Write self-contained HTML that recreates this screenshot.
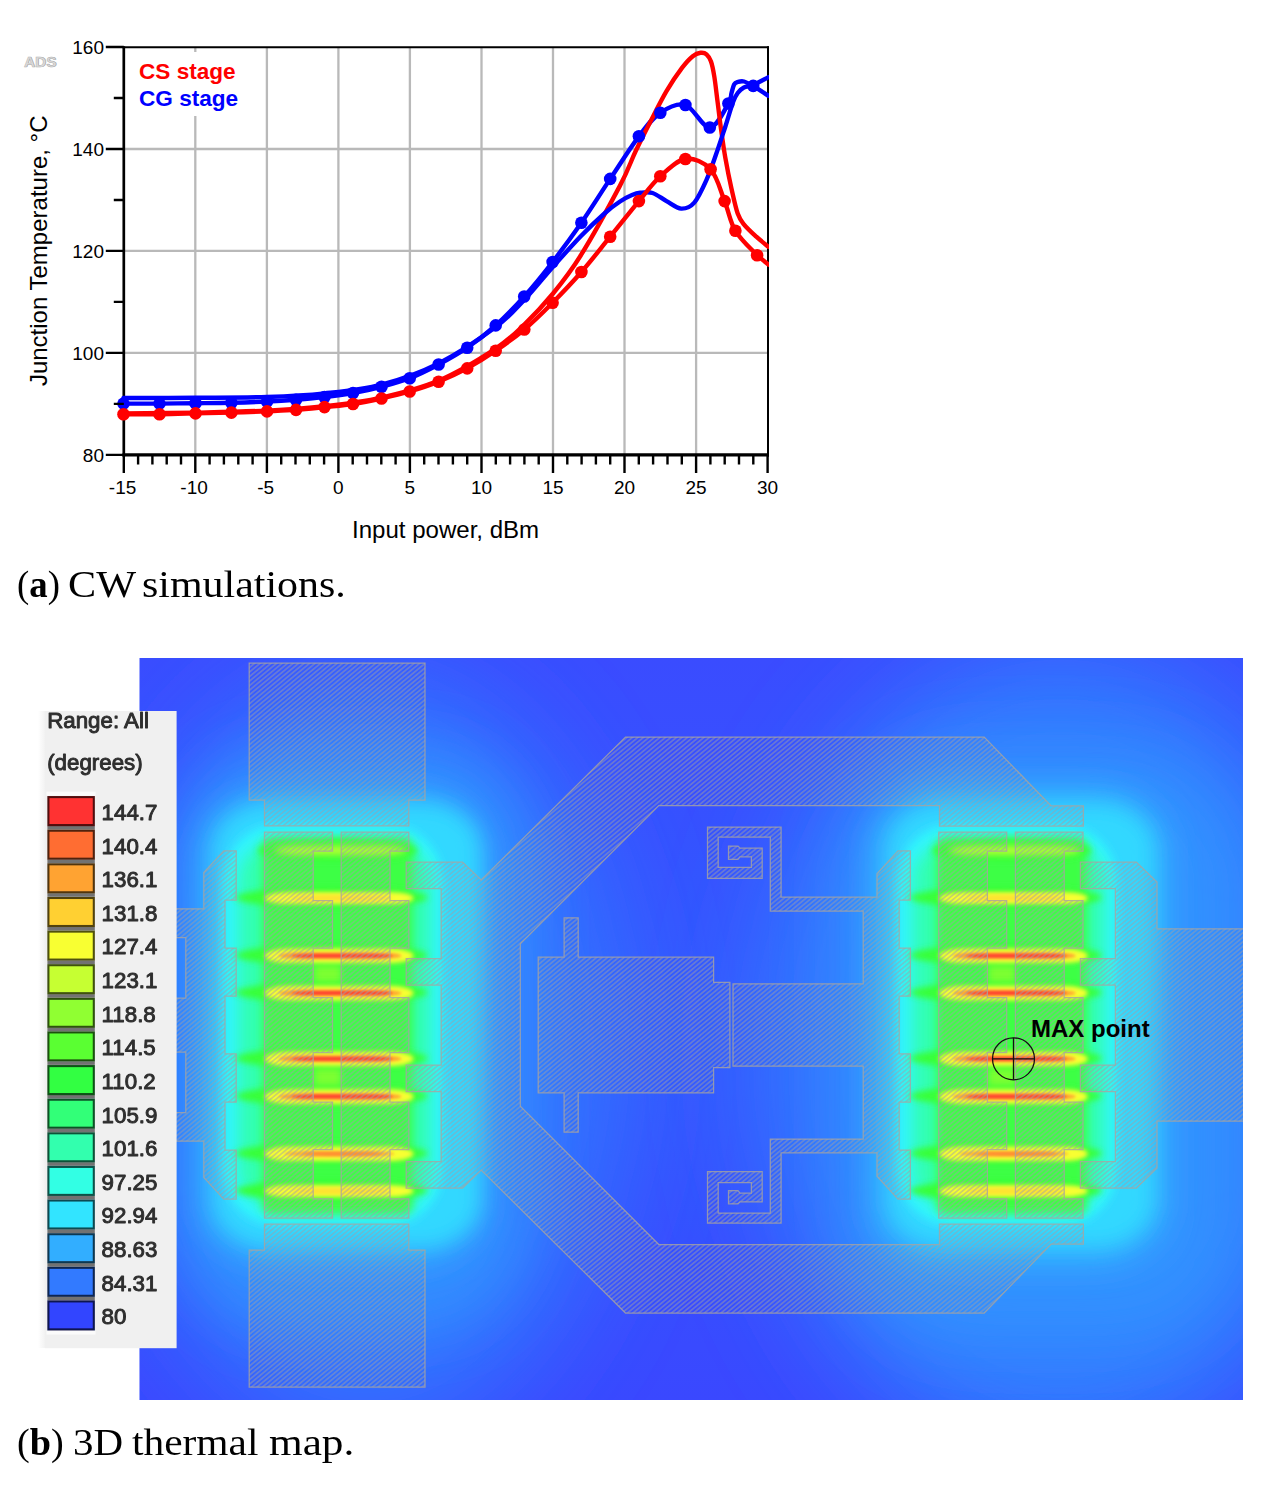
<!DOCTYPE html>
<html><head><meta charset="utf-8"><title>Figure</title>
<style>
html,body{margin:0;padding:0;background:#fff;}
body{width:1279px;height:1485px;overflow:hidden;position:relative;}
svg{position:absolute;left:0;top:0;}
.cap{position:absolute;left:0;margin:0;width:400px;height:42px;font-family:"Liberation Serif","DejaVu Serif",serif;font-size:37.5px;line-height:1;color:#000;white-space:nowrap;}
.cap span{position:absolute;top:0;display:inline-block;transform-origin:0 0;}
</style></head><body>
<svg width="1279" height="1485" viewBox="0 0 1279 1485">
<!--CHART-->
<line x1="195.3" y1="47.0" x2="195.3" y2="454.9" stroke="#b9b9b9" stroke-width="2.3"/>
<line x1="266.9" y1="47.0" x2="266.9" y2="454.9" stroke="#b9b9b9" stroke-width="2.3"/>
<line x1="338.4" y1="47.0" x2="338.4" y2="454.9" stroke="#b9b9b9" stroke-width="2.3"/>
<line x1="409.9" y1="47.0" x2="409.9" y2="454.9" stroke="#b9b9b9" stroke-width="2.3"/>
<line x1="481.5" y1="47.0" x2="481.5" y2="454.9" stroke="#b9b9b9" stroke-width="2.3"/>
<line x1="553.0" y1="47.0" x2="553.0" y2="454.9" stroke="#b9b9b9" stroke-width="2.3"/>
<line x1="624.5" y1="47.0" x2="624.5" y2="454.9" stroke="#b9b9b9" stroke-width="2.3"/>
<line x1="696.1" y1="47.0" x2="696.1" y2="454.9" stroke="#b9b9b9" stroke-width="2.3"/>
<line x1="123.8" y1="352.9" x2="767.6" y2="352.9" stroke="#b9b9b9" stroke-width="2.3"/>
<line x1="123.8" y1="250.9" x2="767.6" y2="250.9" stroke="#b9b9b9" stroke-width="2.3"/>
<line x1="123.8" y1="149.0" x2="767.6" y2="149.0" stroke="#b9b9b9" stroke-width="2.3"/>
<rect x="131" y="52" width="122" height="64" fill="#fff"/>
<path d="M122.5,47.15 H769.0" stroke="#000" stroke-width="2" fill="none"/>
<path d="M768.0,46.2 V456.4" stroke="#000" stroke-width="2" fill="none"/>
<path d="M123.8,46.2 V456.4" stroke="#000" stroke-width="2.7" fill="none"/>
<path d="M122.5,454.9 H769.0" stroke="#000" stroke-width="3.1" fill="none"/>
<clipPath id="pc"><rect x="115.8" y="47.0" width="653.2" height="407.9"/></clipPath>
<g clip-path="url(#pc)" fill="none" stroke-width="4.4" stroke-linejoin="round" stroke-linecap="round">
<path d="M123.5,403.6 C129.5,403.6 147.5,403.7 159.5,403.6 C171.5,403.5 183.5,403.3 195.5,403.2 C207.5,403.1 219.5,403.1 231.4,402.8 C243.3,402.5 256.2,402.1 267.0,401.6 C277.8,401.1 286.4,400.5 296.0,399.7 C305.6,398.9 315.0,398.1 324.5,397.0 C334.0,395.9 343.5,394.7 353.0,393.0 C362.5,391.3 372.1,389.3 381.5,386.8 C390.9,384.3 400.2,381.9 409.7,378.2 C419.2,374.5 429.0,369.6 438.6,364.5 C448.2,359.4 457.7,354.2 467.2,347.7 C476.7,341.2 486.2,333.9 495.7,325.4 C505.2,316.9 514.7,307.1 524.2,296.5 C533.7,285.9 543.1,274.3 552.6,262.0 C562.1,249.7 571.8,236.5 581.4,222.7 C591.0,208.8 600.6,193.3 610.2,178.9 C619.8,164.5 630.5,147.3 638.9,136.3 C647.2,125.3 652.5,118.0 660.3,112.8 C668.0,107.6 677.1,102.5 685.4,105.0 C693.6,107.5 702.6,127.8 709.8,127.5 C717.0,127.2 724.8,109.3 728.4,103.5 C732.0,97.7 730.6,95.8 731.6,92.6 C732.6,89.4 733.2,86.2 734.2,84.4 C735.2,82.6 736.2,82.5 737.8,82.0 C739.4,81.5 741.4,80.8 744.0,81.5 C746.6,82.2 751.7,85.2 753.2,85.9 L768.4,95.8" stroke="#0000ff"/>
<path d="M123.5,413.5 C135.4,413.4 171.1,413.1 195.0,412.6 C218.9,412.1 245.4,411.7 267.0,410.6 C288.6,409.6 305.4,408.5 324.5,406.3 C343.6,404.1 362.5,401.9 381.5,397.6 C400.5,393.3 419.6,388.8 438.6,380.6 C457.6,372.4 481.4,357.9 495.7,348.5 C510.0,339.1 514.8,333.6 524.3,324.5 C533.8,315.4 543.1,305.6 552.6,294.0 C562.1,282.4 569.8,273.1 581.0,255.0 C592.2,236.9 610.9,202.8 620.0,185.6 C629.1,168.3 630.3,162.3 635.5,151.5 C640.7,140.7 645.8,130.6 651.0,120.5 C656.2,110.4 661.3,99.9 666.5,91.1 C671.7,82.3 677.6,73.7 682.0,67.9 C686.4,62.1 689.7,58.7 692.8,56.2 C695.9,53.7 698.2,53.1 700.5,52.8 C702.8,52.5 704.8,52.8 706.5,54.3 C708.2,55.8 709.7,57.8 711.0,61.5 C712.3,65.2 713.2,69.8 714.3,76.5 C715.4,83.2 716.5,93.6 717.6,102.0 C718.7,110.4 719.4,117.4 720.7,126.7 C722.0,136.0 723.5,147.4 725.3,157.7 C727.1,168.0 729.4,179.4 731.5,188.7 C733.6,198.0 735.6,207.6 737.7,213.5 C739.8,219.4 740.8,220.4 743.9,224.3 C747.0,228.2 752.2,232.9 756.3,236.7 C760.4,240.4 766.4,245.1 768.4,246.8" stroke="#ff0000"/>
<path d="M123.5,398.0 C135.4,398.0 171.1,398.0 195.0,397.8 C218.9,397.6 245.4,397.7 267.0,397.0 C288.6,396.3 305.4,395.5 324.5,393.4 C343.6,391.3 362.5,389.6 381.5,384.6 C400.5,379.6 419.6,373.0 438.6,363.4 C457.6,353.8 481.4,337.6 495.7,327.0 C510.0,316.4 514.6,310.1 524.2,300.0 C533.8,289.9 543.7,277.2 553.2,266.5 C562.7,255.8 572.4,244.9 581.0,236.0 C589.6,227.1 598.5,218.8 605.0,213.0 C611.5,207.2 615.5,204.5 620.0,201.5 C624.5,198.5 628.6,196.4 632.0,195.0 C635.4,193.6 636.7,193.1 640.1,192.8 C643.5,192.5 648.1,191.6 652.5,193.0 C656.9,194.4 661.7,198.5 666.5,201.1 C671.3,203.7 676.6,208.3 681.2,208.6 C685.8,208.8 690.0,207.5 694.3,202.6 C698.5,197.7 703.1,187.4 706.7,179.4 C710.3,171.4 712.9,163.4 716.0,154.6 C719.1,145.8 722.4,135.5 725.3,126.7 C728.1,117.9 731.0,107.6 733.1,102.0 C735.2,96.4 735.9,95.4 737.7,93.0 C739.5,90.6 741.3,88.8 743.9,87.5 C746.5,86.2 749.1,86.6 753.2,84.9 C757.3,83.2 765.9,78.5 768.4,77.2" stroke="#0000ff"/>
<path d="M123.5,414.2 C129.5,414.2 147.5,414.3 159.5,414.2 C171.5,414.1 183.5,413.7 195.5,413.4 C207.5,413.1 219.5,412.9 231.4,412.6 C243.3,412.3 256.2,411.8 267.0,411.4 C277.8,410.9 286.4,410.6 296.0,409.9 C305.6,409.2 315.0,408.1 324.5,407.1 C334.0,406.1 343.5,405.4 353.0,404.0 C362.5,402.6 372.1,400.6 381.5,398.5 C390.9,396.4 400.2,394.3 409.7,391.5 C419.2,388.7 429.0,385.6 438.6,381.7 C448.2,377.8 457.7,373.5 467.2,368.4 C476.7,363.2 486.2,357.3 495.7,350.8 C505.2,344.3 514.8,337.5 524.3,329.5 C533.8,321.5 543.1,312.3 552.6,302.7 C562.1,293.1 571.8,283.0 581.4,272.0 C591.0,261.0 600.6,248.5 610.2,236.7 C619.8,224.9 630.5,211.2 638.9,201.1 C647.2,191.0 652.5,183.3 660.3,176.3 C668.0,169.3 677.0,160.2 685.4,159.0 C693.8,157.8 704.1,162.3 710.6,169.3 C717.1,176.3 720.5,190.8 724.6,201.1 C728.7,211.3 730.0,221.8 735.4,230.8 C740.8,239.8 753.5,251.2 757.1,255.3 L768.4,264.6" stroke="#ff0000"/>
</g>
<g clip-path="url(#pc)">
<circle cx="123.5" cy="403.6" r="6.3" fill="#0000ff"/>
<circle cx="159.5" cy="403.6" r="6.3" fill="#0000ff"/>
<circle cx="195.5" cy="403.2" r="6.3" fill="#0000ff"/>
<circle cx="231.4" cy="402.8" r="6.3" fill="#0000ff"/>
<circle cx="267.0" cy="401.6" r="6.3" fill="#0000ff"/>
<circle cx="296.0" cy="399.7" r="6.3" fill="#0000ff"/>
<circle cx="324.5" cy="397.0" r="6.3" fill="#0000ff"/>
<circle cx="353.0" cy="393.0" r="6.3" fill="#0000ff"/>
<circle cx="381.5" cy="386.8" r="6.3" fill="#0000ff"/>
<circle cx="409.7" cy="378.2" r="6.3" fill="#0000ff"/>
<circle cx="438.6" cy="364.5" r="6.3" fill="#0000ff"/>
<circle cx="467.2" cy="347.7" r="6.3" fill="#0000ff"/>
<circle cx="495.7" cy="325.4" r="6.3" fill="#0000ff"/>
<circle cx="524.2" cy="296.5" r="6.3" fill="#0000ff"/>
<circle cx="552.6" cy="262.0" r="6.3" fill="#0000ff"/>
<circle cx="581.4" cy="222.7" r="6.3" fill="#0000ff"/>
<circle cx="610.2" cy="178.9" r="6.3" fill="#0000ff"/>
<circle cx="638.9" cy="136.3" r="6.3" fill="#0000ff"/>
<circle cx="660.3" cy="112.8" r="6.3" fill="#0000ff"/>
<circle cx="685.4" cy="105.0" r="6.3" fill="#0000ff"/>
<circle cx="709.8" cy="127.5" r="6.3" fill="#0000ff"/>
<circle cx="728.4" cy="103.5" r="6.3" fill="#0000ff"/>
<circle cx="753.2" cy="85.9" r="6.3" fill="#0000ff"/>
<circle cx="123.5" cy="414.2" r="6.3" fill="#ff0000"/>
<circle cx="159.5" cy="414.2" r="6.3" fill="#ff0000"/>
<circle cx="195.5" cy="413.4" r="6.3" fill="#ff0000"/>
<circle cx="231.4" cy="412.6" r="6.3" fill="#ff0000"/>
<circle cx="267.0" cy="411.4" r="6.3" fill="#ff0000"/>
<circle cx="296.0" cy="409.9" r="6.3" fill="#ff0000"/>
<circle cx="324.5" cy="407.1" r="6.3" fill="#ff0000"/>
<circle cx="353.0" cy="404.0" r="6.3" fill="#ff0000"/>
<circle cx="381.5" cy="398.5" r="6.3" fill="#ff0000"/>
<circle cx="409.7" cy="391.5" r="6.3" fill="#ff0000"/>
<circle cx="438.6" cy="381.7" r="6.3" fill="#ff0000"/>
<circle cx="467.2" cy="368.4" r="6.3" fill="#ff0000"/>
<circle cx="495.7" cy="350.8" r="6.3" fill="#ff0000"/>
<circle cx="524.3" cy="329.5" r="6.3" fill="#ff0000"/>
<circle cx="552.6" cy="302.7" r="6.3" fill="#ff0000"/>
<circle cx="581.4" cy="272.0" r="6.3" fill="#ff0000"/>
<circle cx="610.2" cy="236.7" r="6.3" fill="#ff0000"/>
<circle cx="638.9" cy="201.1" r="6.3" fill="#ff0000"/>
<circle cx="660.3" cy="176.3" r="6.3" fill="#ff0000"/>
<circle cx="685.4" cy="159.0" r="6.3" fill="#ff0000"/>
<circle cx="710.6" cy="169.3" r="6.3" fill="#ff0000"/>
<circle cx="724.6" cy="201.1" r="6.3" fill="#ff0000"/>
<circle cx="735.4" cy="230.8" r="6.3" fill="#ff0000"/>
<circle cx="757.1" cy="255.3" r="6.3" fill="#ff0000"/>
</g>
<path d="M105.8,454.9 h18.0 M113.8,403.9 h10.0 M105.8,352.9 h18.0 M113.8,301.9 h10.0 M105.8,250.9 h18.0 M113.8,200.0 h10.0 M105.8,149.0 h18.0 M113.8,98.0 h10.0 M105.8,47.0 h18.0 M123.8,454.9 v18.0 M138.1,454.9 v9.5 M152.4,454.9 v9.5 M166.7,454.9 v9.5 M181.0,454.9 v9.5 M195.3,454.9 v18.0 M209.6,454.9 v9.5 M223.9,454.9 v9.5 M238.3,454.9 v9.5 M252.6,454.9 v9.5 M266.9,454.9 v18.0 M281.2,454.9 v9.5 M295.5,454.9 v9.5 M309.8,454.9 v9.5 M324.1,454.9 v9.5 M338.4,454.9 v18.0 M352.7,454.9 v9.5 M367.0,454.9 v9.5 M381.3,454.9 v9.5 M395.6,454.9 v9.5 M409.9,454.9 v18.0 M424.2,454.9 v9.5 M438.5,454.9 v9.5 M452.9,454.9 v9.5 M467.2,454.9 v9.5 M481.5,454.9 v18.0 M495.8,454.9 v9.5 M510.1,454.9 v9.5 M524.4,454.9 v9.5 M538.7,454.9 v9.5 M553.0,454.9 v18.0 M567.3,454.9 v9.5 M581.6,454.9 v9.5 M595.9,454.9 v9.5 M610.2,454.9 v9.5 M624.5,454.9 v18.0 M638.8,454.9 v9.5 M653.1,454.9 v9.5 M667.5,454.9 v9.5 M681.8,454.9 v9.5 M696.1,454.9 v18.0 M710.4,454.9 v9.5 M724.7,454.9 v9.5 M739.0,454.9 v9.5 M753.3,454.9 v9.5 M767.6,454.9 v18.0" stroke="#000" stroke-width="2.4" fill="none"/>
<g font-family="Liberation Sans, Arial, sans-serif" font-size="19" fill="#000">
<text x="104.0" y="461.8" text-anchor="end">80</text>
<text x="104.0" y="359.8" text-anchor="end">100</text>
<text x="104.0" y="257.8" text-anchor="end">120</text>
<text x="104.0" y="155.9" text-anchor="end">140</text>
<text x="104.0" y="53.9" text-anchor="end">160</text>
<text x="122.6" y="493.6" text-anchor="middle">-15</text>
<text x="194.1" y="493.6" text-anchor="middle">-10</text>
<text x="265.7" y="493.6" text-anchor="middle">-5</text>
<text x="338.4" y="493.6" text-anchor="middle">0</text>
<text x="409.9" y="493.6" text-anchor="middle">5</text>
<text x="481.5" y="493.6" text-anchor="middle">10</text>
<text x="553.0" y="493.6" text-anchor="middle">15</text>
<text x="624.5" y="493.6" text-anchor="middle">20</text>
<text x="696.1" y="493.6" text-anchor="middle">25</text>
<text x="767.6" y="493.6" text-anchor="middle">30</text>
</g>
<g font-family="Liberation Sans, Arial, sans-serif" fill="#000">
<text x="445.6" y="538" font-size="24.05" text-anchor="middle">Input power, dBm</text>
<text transform="translate(47.2,250.8) rotate(-90)" font-size="24" text-anchor="middle">Junction Temperature, °C</text>
<text x="139" y="78.5" font-size="22.6" font-weight="bold" fill="#ff0000">CS stage</text>
<text x="139" y="105.5" font-size="22.6" font-weight="bold" fill="#0000ff">CG stage</text>
<text x="24.5" y="67.4" font-size="15.4" font-weight="bold" fill="#9c9c9c">ADS</text><text x="24" y="66.7" font-size="15.4" font-weight="bold" fill="#dcdcdc" stroke="#b4b4b4" stroke-width="0.5">ADS</text>
</g>
<!--MAP-->
<defs>
<filter id="b55" filterUnits="userSpaceOnUse" x="0" y="500" width="1400" height="1100"><feGaussianBlur stdDeviation="55"/></filter>
<filter id="b35" filterUnits="userSpaceOnUse" x="0" y="500" width="1400" height="1100"><feGaussianBlur stdDeviation="35"/></filter>
<filter id="b28" filterUnits="userSpaceOnUse" x="0" y="500" width="1400" height="1100"><feGaussianBlur stdDeviation="28"/></filter>
<filter id="b16" filterUnits="userSpaceOnUse" x="0" y="500" width="1400" height="1100"><feGaussianBlur stdDeviation="16"/></filter>
<filter id="b12" filterUnits="userSpaceOnUse" x="0" y="500" width="1400" height="1100"><feGaussianBlur stdDeviation="12"/></filter>
<filter id="b7" filterUnits="userSpaceOnUse" x="0" y="500" width="1400" height="1100"><feGaussianBlur stdDeviation="7"/></filter>
<filter id="b10" filterUnits="userSpaceOnUse" x="0" y="500" width="1400" height="1100"><feGaussianBlur stdDeviation="10"/></filter>
<filter id="b8" filterUnits="userSpaceOnUse" x="0" y="500" width="1400" height="1100"><feGaussianBlur stdDeviation="8"/></filter>
<filter id="b5" filterUnits="userSpaceOnUse" x="0" y="500" width="1400" height="1100"><feGaussianBlur stdDeviation="5"/></filter>
<filter id="b3" filterUnits="userSpaceOnUse" x="0" y="500" width="1400" height="1100"><feGaussianBlur stdDeviation="3"/></filter>
<filter id="b2" filterUnits="userSpaceOnUse" x="0" y="500" width="1400" height="1100"><feGaussianBlur stdDeviation="2"/></filter>
<filter id="b15" filterUnits="userSpaceOnUse" x="0" y="500" width="1400" height="1100"><feGaussianBlur stdDeviation="1.5"/></filter>
<filter id="b1" filterUnits="userSpaceOnUse" x="0" y="500" width="1400" height="1100"><feGaussianBlur stdDeviation="1.0"/></filter>
<filter id="tb" filterUnits="userSpaceOnUse" x="0" y="600" width="400" height="900"><feGaussianBlur stdDeviation="0.7"/></filter>
<filter id="sb" filterUnits="userSpaceOnUse" x="0" y="600" width="400" height="900"><feGaussianBlur stdDeviation="0.5"/></filter>
<pattern id="hatch" width="12" height="3.5" patternUnits="userSpaceOnUse" patternTransform="rotate(-39.5)"><rect x="0" y="1" width="12" height="1.5" fill="#a0a0a8" fill-opacity="0.54"/></pattern>
<clipPath id="mc"><rect x="139.3" y="658.0" width="1103.7" height="742.0"/></clipPath>
<linearGradient id="bgv" x1="0" y1="0" x2="0" y2="1"><stop offset="0" stop-color="#3a4cff"/><stop offset="0.5" stop-color="#3356ff"/><stop offset="1" stop-color="#3a48ff"/></linearGradient>
</defs>
<g clip-path="url(#mc)">
<rect x="139.3" y="658.0" width="1103.7" height="742.0" fill="url(#bgv)"/>
<ellipse cx="366.6" cy="1053.0" rx="255" ry="385" fill="#3376ff" filter="url(#b55)"/>
<rect x="178.6" y="748" width="350" height="580" rx="110" ry="120" fill="#338eff" filter="url(#b28)"/>
<rect x="202.6" y="794" width="280" height="464" rx="70" ry="56" fill="#33baff" filter="url(#b16)"/>
<rect x="216.6" y="805" width="262" height="440" rx="56" ry="44" fill="#33d8ff" filter="url(#b10)"/>
<rect x="222.6" y="825" width="221" height="400" rx="54" ry="60" fill="#33f4ff" filter="url(#b5)"/>
<rect x="238.6" y="840" width="192" height="370" rx="44" ry="40" fill="#33ffb0" filter="url(#b8)"/>
<rect x="262.6" y="838" width="150" height="376" rx="8" fill="#3cff44" filter="url(#b5)"/>
<rect x="314.6" y="952.0" width="26" height="41.5" fill="#7cff33" filter="url(#b3)"/>
<rect x="314.6" y="1056.5" width="26" height="41.5" fill="#7cff33" filter="url(#b3)"/>
<ellipse cx="1060.8" cy="1055.0" rx="300" ry="410" fill="#337cff" filter="url(#b55)"/>
<rect x="845.8" y="752" width="400" height="590" rx="125" ry="130" fill="#3392ff" filter="url(#b35)"/>
<rect x="872.8" y="790" width="292" height="472" rx="72" ry="58" fill="#33baff" filter="url(#b16)"/>
<rect x="890.8" y="805" width="262" height="440" rx="56" ry="44" fill="#33d8ff" filter="url(#b10)"/>
<rect x="896.8" y="825" width="221" height="400" rx="54" ry="60" fill="#33f4ff" filter="url(#b5)"/>
<rect x="912.8" y="840" width="192" height="370" rx="44" ry="40" fill="#33ffb0" filter="url(#b8)"/>
<rect x="936.8" y="838" width="150" height="376" rx="8" fill="#3cff44" filter="url(#b5)"/>
<rect x="988.8" y="952.0" width="26" height="41.5" fill="#7cff33" filter="url(#b3)"/>
<rect x="988.8" y="1056.5" width="26" height="41.5" fill="#7cff33" filter="url(#b3)"/>
<ellipse cx="337.6" cy="850.5" rx="80" ry="10.5" fill="#38ff38" filter="url(#b3)"/>
<rect x="274.6" y="846.0" width="132.0" height="9.0" rx="30.0" ry="4.5" fill="#c8ff33" opacity="0.85" filter="url(#b3)"/>
<ellipse cx="331.6" cy="897.5" rx="96" ry="10.5" fill="#38ff38" filter="url(#b3)"/>
<rect x="264.6" y="892.1" width="149.0" height="12.0" rx="24.0" ry="6.0" fill="#f8ff33" filter="url(#b2)"/>
<rect x="290.6" y="895.5" width="102.0" height="5.2" rx="30.0" ry="2.6" fill="#ffdc33" filter="url(#b2)"/>
<ellipse cx="331.6" cy="955.2" rx="96" ry="10.5" fill="#38ff38" filter="url(#b3)"/>
<rect x="264.6" y="948.5" width="149.0" height="14.6" rx="24.0" ry="7.3" fill="#f8ff33" filter="url(#b2)"/>
<rect x="278.6" y="952.3" width="123.0" height="7.0" rx="28.0" ry="3.5" fill="#ffa433" filter="url(#b15)"/>
<rect x="291.6" y="953.8" width="101.0" height="4.0" rx="24.0" ry="2.0" fill="#ff4633" filter="url(#b1)"/>
<ellipse cx="331.6" cy="992.5" rx="96" ry="10.5" fill="#38ff38" filter="url(#b3)"/>
<rect x="264.6" y="985.8" width="149.0" height="14.6" rx="24.0" ry="7.3" fill="#f8ff33" filter="url(#b2)"/>
<rect x="278.6" y="989.6" width="123.0" height="7.0" rx="28.0" ry="3.5" fill="#ffa433" filter="url(#b15)"/>
<rect x="291.6" y="991.1" width="101.0" height="4.0" rx="24.0" ry="2.0" fill="#ff4633" filter="url(#b1)"/>
<ellipse cx="331.6" cy="1058.2" rx="96" ry="10.5" fill="#38ff38" filter="url(#b3)"/>
<rect x="264.6" y="1051.5" width="149.0" height="14.6" rx="24.0" ry="7.3" fill="#f8ff33" filter="url(#b2)"/>
<rect x="278.6" y="1055.3" width="123.0" height="7.0" rx="28.0" ry="3.5" fill="#ffa433" filter="url(#b15)"/>
<rect x="291.6" y="1056.8" width="101.0" height="4.0" rx="24.0" ry="2.0" fill="#ff4633" filter="url(#b1)"/>
<ellipse cx="331.6" cy="1096.0" rx="96" ry="10.5" fill="#38ff38" filter="url(#b3)"/>
<rect x="264.6" y="1089.3" width="149.0" height="14.6" rx="24.0" ry="7.3" fill="#f8ff33" filter="url(#b2)"/>
<rect x="278.6" y="1093.1" width="123.0" height="7.0" rx="28.0" ry="3.5" fill="#ffa433" filter="url(#b15)"/>
<rect x="291.6" y="1094.6" width="101.0" height="4.0" rx="24.0" ry="2.0" fill="#ff4633" filter="url(#b1)"/>
<ellipse cx="331.6" cy="1153.2" rx="96" ry="10.5" fill="#38ff38" filter="url(#b3)"/>
<rect x="264.6" y="1146.5" width="149.0" height="14.6" rx="24.0" ry="7.3" fill="#f8ff33" filter="url(#b2)"/>
<rect x="284.6" y="1151.0" width="110.0" height="5.6" rx="28.0" ry="2.8" fill="#ffb433" filter="url(#b15)"/>
<rect x="302.6" y="1152.2" width="80.0" height="3.2" rx="24.0" ry="1.6" fill="#ff8433" filter="url(#b15)"/>
<ellipse cx="331.6" cy="1190.5" rx="96" ry="10.5" fill="#38ff38" filter="url(#b3)"/>
<rect x="264.6" y="1185.1" width="149.0" height="12.0" rx="24.0" ry="6.0" fill="#f8ff33" filter="url(#b2)"/>
<rect x="290.6" y="1188.5" width="102.0" height="5.2" rx="30.0" ry="2.6" fill="#ffdc33" filter="url(#b2)"/>
<ellipse cx="1011.8" cy="850.5" rx="80" ry="10.5" fill="#38ff38" filter="url(#b3)"/>
<rect x="948.8" y="846.0" width="132.0" height="9.0" rx="30.0" ry="4.5" fill="#c8ff33" opacity="0.85" filter="url(#b3)"/>
<ellipse cx="1005.8" cy="897.5" rx="96" ry="10.5" fill="#38ff38" filter="url(#b3)"/>
<rect x="938.8" y="892.1" width="149.0" height="12.0" rx="24.0" ry="6.0" fill="#f8ff33" filter="url(#b2)"/>
<rect x="964.8" y="895.5" width="102.0" height="5.2" rx="30.0" ry="2.6" fill="#ffdc33" filter="url(#b2)"/>
<ellipse cx="1005.8" cy="955.2" rx="96" ry="10.5" fill="#38ff38" filter="url(#b3)"/>
<rect x="938.8" y="948.5" width="149.0" height="14.6" rx="24.0" ry="7.3" fill="#f8ff33" filter="url(#b2)"/>
<rect x="952.8" y="952.3" width="123.0" height="7.0" rx="28.0" ry="3.5" fill="#ffa433" filter="url(#b15)"/>
<rect x="965.8" y="953.8" width="101.0" height="4.0" rx="24.0" ry="2.0" fill="#ff4633" filter="url(#b1)"/>
<ellipse cx="1005.8" cy="992.5" rx="96" ry="10.5" fill="#38ff38" filter="url(#b3)"/>
<rect x="938.8" y="985.8" width="149.0" height="14.6" rx="24.0" ry="7.3" fill="#f8ff33" filter="url(#b2)"/>
<rect x="952.8" y="989.6" width="123.0" height="7.0" rx="28.0" ry="3.5" fill="#ffa433" filter="url(#b15)"/>
<rect x="965.8" y="991.1" width="101.0" height="4.0" rx="24.0" ry="2.0" fill="#ff4633" filter="url(#b1)"/>
<ellipse cx="1005.8" cy="1058.2" rx="96" ry="10.5" fill="#38ff38" filter="url(#b3)"/>
<rect x="938.8" y="1051.5" width="149.0" height="14.6" rx="24.0" ry="7.3" fill="#f8ff33" filter="url(#b2)"/>
<rect x="952.8" y="1055.3" width="123.0" height="7.0" rx="28.0" ry="3.5" fill="#ffa433" filter="url(#b15)"/>
<rect x="965.8" y="1056.8" width="101.0" height="4.0" rx="24.0" ry="2.0" fill="#ff4633" filter="url(#b1)"/>
<ellipse cx="1005.8" cy="1096.0" rx="96" ry="10.5" fill="#38ff38" filter="url(#b3)"/>
<rect x="938.8" y="1089.3" width="149.0" height="14.6" rx="24.0" ry="7.3" fill="#f8ff33" filter="url(#b2)"/>
<rect x="952.8" y="1093.1" width="123.0" height="7.0" rx="28.0" ry="3.5" fill="#ffa433" filter="url(#b15)"/>
<rect x="965.8" y="1094.6" width="101.0" height="4.0" rx="24.0" ry="2.0" fill="#ff4633" filter="url(#b1)"/>
<ellipse cx="1005.8" cy="1153.2" rx="96" ry="10.5" fill="#38ff38" filter="url(#b3)"/>
<rect x="938.8" y="1146.5" width="149.0" height="14.6" rx="24.0" ry="7.3" fill="#f8ff33" filter="url(#b2)"/>
<rect x="958.8" y="1151.0" width="110.0" height="5.6" rx="28.0" ry="2.8" fill="#ffb433" filter="url(#b15)"/>
<rect x="976.8" y="1152.2" width="80.0" height="3.2" rx="24.0" ry="1.6" fill="#ff8433" filter="url(#b15)"/>
<ellipse cx="1005.8" cy="1190.5" rx="96" ry="10.5" fill="#38ff38" filter="url(#b3)"/>
<rect x="938.8" y="1185.1" width="149.0" height="12.0" rx="24.0" ry="6.0" fill="#f8ff33" filter="url(#b2)"/>
<rect x="964.8" y="1188.5" width="102.0" height="5.2" rx="30.0" ry="2.6" fill="#ffdc33" filter="url(#b2)"/>
<path d="M249.2,663.0 L425.0,663.0 L425.0,800.0 L408.8,800.0 L408.8,825.8 L264.5,825.8 L264.5,800.0 L249.2,800.0Z M249.2,1387.0 L425.0,1387.0 L425.0,1250.0 L408.8,1250.0 L408.8,1224.2 L264.5,1224.2 L264.5,1250.0 L249.2,1250.0Z M264.5,1025.0 L264.5,832.0 L332.5,832.0 L332.5,851.2 L313.2,851.2 L313.2,900.5 L332.5,900.5 L332.5,948.0 L313.2,948.0 L313.2,997.5 L332.5,997.5 L332.5,1025.0 L332.5,1025.0 L332.5,1052.5 L313.2,1052.5 L313.2,1102.0 L332.5,1102.0 L332.5,1149.5 L313.2,1149.5 L313.2,1198.8 L332.5,1198.8 L332.5,1218.0 L264.5,1218.0 L264.5,1025.0Z M341.2,1025.0 L341.2,832.0 L408.8,832.0 L408.8,851.2 L390.0,851.2 L390.0,900.5 L408.8,900.5 L408.8,948.0 L390.0,948.0 L390.0,997.5 L408.8,997.5 L408.8,1025.0 L408.8,1025.0 L408.8,1052.5 L390.0,1052.5 L390.0,1102.0 L408.8,1102.0 L408.8,1149.5 L390.0,1149.5 L390.0,1198.8 L408.8,1198.8 L408.8,1218.0 L341.2,1218.0 L341.2,1025.0Z M938.7,1025.0 L938.7,832.0 L1006.7,832.0 L1006.7,851.2 L987.4,851.2 L987.4,900.5 L1006.7,900.5 L1006.7,948.0 L987.4,948.0 L987.4,997.5 L1006.7,997.5 L1006.7,1025.0 L1006.7,1025.0 L1006.7,1052.5 L987.4,1052.5 L987.4,1102.0 L1006.7,1102.0 L1006.7,1149.5 L987.4,1149.5 L987.4,1198.8 L1006.7,1198.8 L1006.7,1218.0 L938.7,1218.0 L938.7,1025.0Z M1015.4,1025.0 L1015.4,832.0 L1083.0,832.0 L1083.0,851.2 L1064.2,851.2 L1064.2,900.5 L1083.0,900.5 L1083.0,948.0 L1064.2,948.0 L1064.2,997.5 L1083.0,997.5 L1083.0,1025.0 L1083.0,1025.0 L1083.0,1052.5 L1064.2,1052.5 L1064.2,1102.0 L1083.0,1102.0 L1083.0,1149.5 L1064.2,1149.5 L1064.2,1198.8 L1083.0,1198.8 L1083.0,1218.0 L1015.4,1218.0 L1015.4,1025.0Z M225.0,1025.0 L225.0,996.2 L236.2,996.2 L236.2,948.0 L225.0,948.0 L225.0,900.0 L236.2,900.0 L236.2,850.8 L223.8,850.8 L203.8,872.5 L203.8,908.8 L150.0,908.8 L150.0,937.5 L185.8,937.5 L185.8,998.0 L150.0,998.0 L150.0,1025.0 L150.0,1025.0 L150.0,1052.0 L185.8,1052.0 L185.8,1112.5 L150.0,1112.5 L150.0,1141.2 L203.8,1141.2 L203.8,1177.5 L223.8,1199.2 L236.2,1199.2 L236.2,1150.0 L225.0,1150.0 L225.0,1102.0 L236.2,1102.0 L236.2,1053.8 L225.0,1053.8 L225.0,1025.0Z M899.2,1025.0 L899.2,996.2 L910.4,996.2 L910.4,948.0 L899.2,948.0 L899.2,900.0 L910.4,900.0 L910.4,850.8 L898.0,850.8 L877.0,873.8 L877.0,897.2 L781.1,897.2 L781.1,827.0 L707.5,827.0 L707.5,878.3 L762.2,878.3 L762.2,848.2 L740.0,848.2 L738.0,846.1 L728.5,846.1 L728.5,859.3 L738.0,859.3 L740.0,856.8 L751.4,856.8 L751.4,867.4 L718.2,867.4 L718.2,837.0 L770.3,837.0 L770.3,911.0 L863.2,911.0 L863.2,983.8 L733.0,983.8 L733.0,1025.0 L733.0,1025.0 L733.0,1066.2 L863.2,1066.2 L863.2,1139.0 L770.3,1139.0 L770.3,1213.0 L718.2,1213.0 L718.2,1182.6 L751.4,1182.6 L751.4,1193.2 L740.0,1193.2 L738.0,1190.7 L728.5,1190.7 L728.5,1203.9 L738.0,1203.9 L740.0,1201.8 L762.2,1201.8 L762.2,1171.7 L707.5,1171.7 L707.5,1223.0 L781.1,1223.0 L781.1,1152.8 L877.0,1152.8 L877.0,1176.2 L898.0,1199.2 L910.4,1199.2 L910.4,1150.0 L899.2,1150.0 L899.2,1102.0 L910.4,1102.0 L910.4,1053.8 L899.2,1053.8 L899.2,1025.0Z M1115.4,1025.0 L1115.4,985.0 L1080.4,985.0 L1080.4,958.5 L1115.4,958.5 L1115.4,888.5 L1080.4,888.5 L1080.4,862.0 L1136.3,862.0 L1157.0,882.0 L1157.0,928.8 L1260.0,928.8 L1260.0,1025.0 L1260.0,1025.0 L1260.0,1121.2 L1157.0,1121.2 L1157.0,1168.0 L1136.3,1188.0 L1080.4,1188.0 L1080.4,1161.5 L1115.4,1161.5 L1115.4,1091.5 L1080.4,1091.5 L1080.4,1065.0 L1115.4,1065.0 L1115.4,1025.0Z M441.2,1025.0 L441.2,985.0 L406.2,985.0 L406.2,958.5 L441.2,958.5 L441.2,888.5 L406.2,888.5 L406.2,862.0 L462.5,862.0 L481.2,880.0 L625.5,737.0 L984.2,737.0 L1051.0,805.8 L1083.4,805.8 L1083.4,826.0 L939.5,826.0 L939.5,805.5 L658.8,805.5 L520.3,943.8 L520.3,1025.0 L520.3,1025.0 L520.3,1106.2 L658.8,1244.5 L939.5,1244.5 L939.5,1224.0 L1083.4,1224.0 L1083.4,1244.2 L1051.0,1244.2 L984.2,1313.0 L625.5,1313.0 L481.2,1170.0 L462.5,1188.0 L406.2,1188.0 L406.2,1161.5 L441.2,1161.5 L441.2,1091.5 L406.2,1091.5 L406.2,1065.0 L441.2,1065.0 L441.2,1025.0Z M538.2,1025.0 L538.2,957.2 L564.1,957.2 L564.1,917.8 L578.2,917.8 L578.2,957.2 L713.6,957.2 L713.6,982.3 L729.9,982.3 L729.9,1025.0 L729.9,1025.0 L729.9,1067.7 L713.6,1067.7 L713.6,1092.8 L578.2,1092.8 L578.2,1132.2 L564.1,1132.2 L564.1,1092.8 L538.2,1092.8 L538.2,1025.0Z" fill="url(#hatch)" stroke="#a8a4a0" stroke-opacity="0.8" stroke-width="1.25" stroke-linejoin="miter" fill-rule="nonzero"/>
<g stroke="#111" stroke-width="1.3" fill="none"><circle cx="1013.5" cy="1058.8" r="21"/><path d="M992.5,1058.8h42M1013.5,1037.8v42"/></g>
<text x="1031" y="1037" font-family="Liberation Sans, Arial, sans-serif" font-weight="bold" font-size="24" fill="#000">MAX point</text>
</g>
<linearGradient id="lgl" x1="0" y1="0" x2="1" y2="0"><stop offset="0" stop-color="#fff"/><stop offset="1" stop-color="#f0f0f0"/></linearGradient>
<rect x="38" y="711" width="8" height="637" fill="url(#lgl)"/>
<rect x="45" y="711" width="131.6" height="637.2" fill="#f0f0f0"/>
<rect x="46.5" y="791.6" width="49" height="4.2" fill="#fbfbfb"/>
<rect x="46.5" y="1331" width="49" height="3.6" fill="#fbfbfb"/>
<g font-family="Liberation Sans, Arial, sans-serif" font-size="22.3" fill="#2e2e2e" stroke="#2e2e2e" stroke-width="0.95" stroke-linejoin="round" filter="url(#tb)">
<text x="47.2" y="728.2">Range: All</text>
<text x="47.2" y="769.8">(degrees)</text>
<text x="101.6" y="819.9">144.7</text>
<text x="101.6" y="853.5">140.4</text>
<text x="101.6" y="887.1">136.1</text>
<text x="101.6" y="920.8">131.8</text>
<text x="101.6" y="954.4">127.4</text>
<text x="101.6" y="988.0">123.1</text>
<text x="101.6" y="1021.6">118.8</text>
<text x="101.6" y="1055.2">114.5</text>
<text x="101.6" y="1088.9">110.2</text>
<text x="101.6" y="1122.5">105.9</text>
<text x="101.6" y="1156.1">101.6</text>
<text x="101.6" y="1189.7">97.25</text>
<text x="101.6" y="1223.3">92.94</text>
<text x="101.6" y="1257.0">88.63</text>
<text x="101.6" y="1290.6">84.31</text>
<text x="101.6" y="1324.2">80</text>
</g>
<rect x="47.4" y="826.0" width="47.4" height="3.6" fill="#727272"/>
<rect x="48.4" y="797.1" width="45.4" height="28" fill="#ff3333" stroke="#511010" stroke-width="2.1" filter="url(#sb)"/>
<rect x="47.4" y="859.6" width="47.4" height="3.6" fill="#727272"/>
<rect x="48.4" y="830.7" width="45.4" height="28" fill="#ff6d33" stroke="#512210" stroke-width="2.1" filter="url(#sb)"/>
<rect x="47.4" y="893.2" width="47.4" height="3.6" fill="#727272"/>
<rect x="48.4" y="864.3" width="45.4" height="28" fill="#ffa333" stroke="#513410" stroke-width="2.1" filter="url(#sb)"/>
<rect x="47.4" y="926.9" width="47.4" height="3.6" fill="#727272"/>
<rect x="48.4" y="898.0" width="45.4" height="28" fill="#ffd033" stroke="#514210" stroke-width="2.1" filter="url(#sb)"/>
<rect x="47.4" y="960.5" width="47.4" height="3.6" fill="#727272"/>
<rect x="48.4" y="931.6" width="45.4" height="28" fill="#f8ff33" stroke="#4f5110" stroke-width="2.1" filter="url(#sb)"/>
<rect x="47.4" y="994.1" width="47.4" height="3.6" fill="#727272"/>
<rect x="48.4" y="965.2" width="45.4" height="28" fill="#c6ff33" stroke="#3f5110" stroke-width="2.1" filter="url(#sb)"/>
<rect x="47.4" y="1027.7" width="47.4" height="3.6" fill="#727272"/>
<rect x="48.4" y="998.8" width="45.4" height="28" fill="#90ff33" stroke="#2e5110" stroke-width="2.1" filter="url(#sb)"/>
<rect x="47.4" y="1061.3" width="47.4" height="3.6" fill="#727272"/>
<rect x="48.4" y="1032.4" width="45.4" height="28" fill="#5aff33" stroke="#1c5110" stroke-width="2.1" filter="url(#sb)"/>
<rect x="47.4" y="1095.0" width="47.4" height="3.6" fill="#727272"/>
<rect x="48.4" y="1066.1" width="45.4" height="28" fill="#33ff42" stroke="#105115" stroke-width="2.1" filter="url(#sb)"/>
<rect x="47.4" y="1128.6" width="47.4" height="3.6" fill="#727272"/>
<rect x="48.4" y="1099.7" width="45.4" height="28" fill="#33ff78" stroke="#105126" stroke-width="2.1" filter="url(#sb)"/>
<rect x="47.4" y="1162.2" width="47.4" height="3.6" fill="#727272"/>
<rect x="48.4" y="1133.3" width="45.4" height="28" fill="#33ffae" stroke="#105137" stroke-width="2.1" filter="url(#sb)"/>
<rect x="47.4" y="1195.8" width="47.4" height="3.6" fill="#727272"/>
<rect x="48.4" y="1166.9" width="45.4" height="28" fill="#33ffe4" stroke="#105148" stroke-width="2.1" filter="url(#sb)"/>
<rect x="47.4" y="1229.4" width="47.4" height="3.6" fill="#727272"/>
<rect x="48.4" y="1200.5" width="45.4" height="28" fill="#33e4ff" stroke="#104851" stroke-width="2.1" filter="url(#sb)"/>
<rect x="47.4" y="1263.1" width="47.4" height="3.6" fill="#727272"/>
<rect x="48.4" y="1234.2" width="45.4" height="28" fill="#33aeff" stroke="#103751" stroke-width="2.1" filter="url(#sb)"/>
<rect x="47.4" y="1296.7" width="47.4" height="3.6" fill="#727272"/>
<rect x="48.4" y="1267.8" width="45.4" height="28" fill="#337aff" stroke="#102751" stroke-width="2.1" filter="url(#sb)"/>
<rect x="48.4" y="1301.4" width="45.4" height="28" fill="#3344ff" stroke="#101551" stroke-width="2.1" filter="url(#sb)"/>
</svg>
<p class="cap" style="top:566.4px"><span style="left:17.3px;transform:scaleX(0.98)">(<b>a</b>)</span> <span style="left:68.2px;transform:scaleX(1.126)">CW</span> <span style="left:142.3px;transform:scaleX(1.118)">simulations.</span></p>
<p class="cap" style="top:1423.6px"><span style="left:17.3px;transform:scaleX(1.02)">(<b>b</b>)</span> <span style="left:73.1px;transform:scaleX(1.093)">3D</span> <span style="left:131.9px;transform:scaleX(1.104)">thermal</span> <span style="left:269.1px;transform:scaleX(1.154)">map.</span></p>
</body></html>
